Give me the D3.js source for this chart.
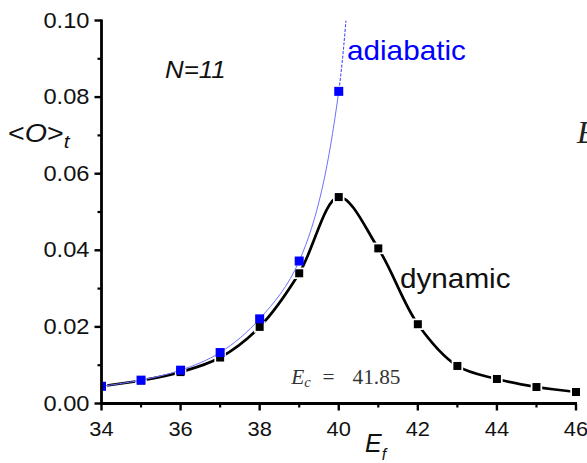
<!DOCTYPE html>
<html>
<head>
<meta charset="utf-8">
<script src="https://cdn.jsdelivr.net/npm/d3@7/dist/d3.min.js"></script>
<style>
  html, body { margin: 0; padding: 0; background: #fff; overflow: hidden; }
  svg { display: block; }
</style>
</head>
<body>
<svg id="chart" width="587" height="463"></svg>
<script>
// Final energy E_f values sampled
const energies = [34, 35, 36, 37, 38, 39, 40, 41, 42, 43, 44, 45, 46];
// Time-averaged observable <O>_t for the dynamic protocol
const dynamicValues = [0.0045, 0.0060, 0.0082, 0.0120, 0.0200, 0.0340, 0.0539, 0.0405, 0.0207, 0.0098, 0.0064, 0.0043, 0.0030];
// Adiabatic prediction (diverges past the critical point; last point lies off scale)
const adiabaticE = [34, 35, 36, 37, 38, 39, 40, 41];
const adiabaticValues = [0.0045, 0.0061, 0.0087, 0.0133, 0.0221, 0.0372, 0.0815, 0.3300];
// Axis ticks
const xMajorTicks = [34, 36, 38, 40, 42, 44, 46];
const xMinorTicks = [35, 37, 39, 41, 43, 45];
const yMajorTicks = [0.00, 0.02, 0.04, 0.06, 0.08, 0.10];
const yMinorTicks = [0.01, 0.03, 0.05, 0.07, 0.09];
const criticalEnergy = 41.85;
const systemSize = 11;

const SANS = "'Liberation Sans', Arial, Helvetica, sans-serif";
const SERIF = "'Liberation Serif', 'Times New Roman', serif";
const STRETCH = 1.1; // the figure's lettering is slightly wide

const svg = d3.select("#chart");
const mLeft = 101.5, mRight = 576, mTop = 20.5, mBottom = 403.5;

const x = d3.scaleLinear().domain([34, 46]).range([mLeft, mRight]);
const y = d3.scaleLinear().domain([0, 0.10]).range([mBottom, mTop]);

// text placed at (px, py) and widened horizontally
function label(parent, px, py, size, opts = {}) {
  return parent.append("text")
    .attr("transform", `translate(${px},${py}) scale(${opts.stretch ?? STRETCH},1)`)
    .attr("text-anchor", opts.anchor || "start")
    .style("font-family", opts.family || SANS)
    .style("font-size", size + "px")
    .style("font-style", opts.italic ? "italic" : "normal")
    .attr("fill", opts.fill || "#111");
}

const defs = svg.append("defs");
defs.append("clipPath").attr("id", "plot-clip")
  .append("rect").attr("x", mLeft).attr("y", mTop).attr("width", mRight - mLeft + 12).attr("height", mBottom - mTop);
// split of the adiabatic curve: solid up to the last on-scale point, dashed beyond
defs.append("clipPath").attr("id", "adi-solid")
  .append("rect").attr("x", mLeft).attr("y", mTop).attr("width", x(40) - mLeft).attr("height", mBottom - mTop);
defs.append("clipPath").attr("id", "adi-tail")
  .append("rect").attr("x", x(40)).attr("y", mTop).attr("width", mRight - x(40)).attr("height", mBottom - mTop);

const plot = svg.append("g").attr("clip-path", "url(#plot-clip)");

// Dynamic curve
const dynPts = energies.map((e, i) => [e, dynamicValues[i]]);
const line = d3.line().x(d => x(d[0])).y(d => y(d[1])).curve(d3.curveCatmullRom.alpha(0.5));

plot.append("path").datum(dynPts)
  .attr("d", line)
  .attr("fill", "none").attr("stroke", "#000").attr("stroke-width", 2.7);

plot.selectAll("rect.dyn").data(dynPts).join("rect")
  .attr("class", "dyn")
  .attr("x", d => x(d[0]) - 4).attr("y", d => y(d[1]) - 4)
  .attr("width", 8).attr("height", 8)
  .attr("fill", "#000").attr("stroke", "#fff").attr("stroke-width", 3.5)
  .attr("paint-order", "stroke");

// Adiabatic curve
const adiPts = adiabaticE.map((e, i) => [e, adiabaticValues[i]]);
plot.append("path").datum(adiPts)
  .attr("d", line)
  .attr("clip-path", "url(#adi-solid)")
  .attr("fill", "none").attr("stroke", "#7070ff").attr("stroke-width", 1);
plot.append("path").datum(adiPts)
  .attr("d", line)
  .attr("clip-path", "url(#adi-tail)")
  .attr("fill", "none").attr("stroke", "#4a4aff").attr("stroke-width", 1.1)
  .attr("stroke-dasharray", "3,1.5");

plot.selectAll("rect.adi").data(adiPts).join("rect")
  .attr("class", "adi")
  .attr("x", d => x(d[0]) - 4.5).attr("y", d => y(d[1]) - 4.5)
  .attr("width", 9).attr("height", 9)
  .attr("fill", "#0000ff");

// Axes
const axisColor = "#000";
const yAxis = svg.append("g").attr("transform", `translate(${mLeft},0)`);
yAxis.append("line").attr("x1", 0).attr("x2", 0).attr("y1", mTop - 1).attr("y2", mBottom + 1.3)
  .attr("stroke", axisColor).attr("stroke-width", 2.8);
yAxis.selectAll("line.maj").data(yMajorTicks).join("line").attr("class", "maj")
  .attr("x1", -7).attr("x2", 0).attr("y1", d => y(d)).attr("y2", d => y(d))
  .attr("stroke", axisColor).attr("stroke-width", 2.4);
yAxis.selectAll("line.min").data(yMinorTicks).join("line").attr("class", "min")
  .attr("x1", -4).attr("x2", 0).attr("y1", d => y(d)).attr("y2", d => y(d))
  .attr("stroke", axisColor).attr("stroke-width", 2.2);
yMajorTicks.forEach(t => {
  label(svg, mLeft - 12, y(t) + 7, 21.5, { anchor: "end" }).text(d3.format(".2f")(t));
});

const xAxis = svg.append("g").attr("transform", `translate(0,${mBottom})`);
xAxis.append("line").attr("x1", mLeft - 1.4).attr("x2", mRight + 1).attr("y1", 0).attr("y2", 0)
  .attr("stroke", axisColor).attr("stroke-width", 2.8);
xAxis.selectAll("line.maj").data(xMajorTicks).join("line").attr("class", "maj")
  .attr("x1", d => x(d)).attr("x2", d => x(d)).attr("y1", 0).attr("y2", 7)
  .attr("stroke", axisColor).attr("stroke-width", 2.4);
xAxis.selectAll("line.min").data(xMinorTicks).join("line").attr("class", "min")
  .attr("x1", d => x(d)).attr("x2", d => x(d)).attr("y1", 0).attr("y2", 4)
  .attr("stroke", axisColor).attr("stroke-width", 2.2);
xMajorTicks.forEach(t => {
  label(svg, x(t), mBottom + 32.5, 21, { anchor: "middle", stretch: 1.04 }).text(t);
});

// Axis titles
const yTitle = label(svg, 8, 142, 26);
yTitle.append("tspan").text("<");
yTitle.append("tspan").style("font-style", "italic").text("O");
yTitle.append("tspan").text(">");
yTitle.append("tspan").style("font-style", "italic").style("font-size", "19px").attr("dy", 6).text("t");

const xTitle = label(svg, 365, 452, 25, { stretch: 1.0 });
xTitle.append("tspan").style("font-style", "italic").text("E");
xTitle.append("tspan").style("font-style", "italic").style("font-size", "16px").attr("dy", 8).text("f");

// Annotations
label(svg, 165, 78, 23.5, { italic: true }).text(`N=${systemSize}`);
label(svg, 347, 60, 27, { fill: "#0000ff" }).text("adiabatic");
label(svg, 400, 288, 27).text("dynamic");

const ec = label(svg, 0, 383.5, 20.5, { family: SERIF, stretch: 1.04, fill: "#333" });
ec.append("tspan").attr("x", 280).style("font-style", "italic").text("E");
ec.append("tspan").style("font-style", "italic").style("font-size", "14px").attr("dy", 3).text("c");
ec.append("tspan").attr("x", 310).attr("dy", -3).text("=");
ec.append("tspan").attr("x", 339).text(criticalEnergy.toFixed(2));

// Partial heading at the right edge
label(svg, 577, 143, 32, { family: SERIF, italic: true, stretch: 1.0, fill: "#222" }).text("E");
</script>
</body>
</html>
